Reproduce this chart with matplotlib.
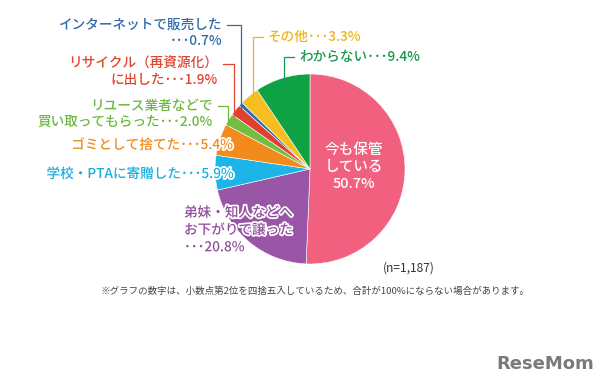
import numpy as np
import matplotlib.pyplot as plt
import matplotlib.patheffects as pe

plt.rcParams['font.family'] = ['Noto Sans CJK JP', 'DejaVu Sans']

# data (clockwise from top)
labels = ['今も保管\nしている', '弟妹・知人などへ\nお下がりで譲った', '学校・PTAに寄贈した',
          'ゴミとして捨てた', 'リユース業者などで\n買い取ってもらった', 'リサイクル（再資源化）\nに出した',
          'インターネットで販売した', 'その他', 'わからない']
values = [50.7, 20.8, 5.9, 5.4, 2.0, 1.9, 0.7, 3.3, 9.4]
colors = ['#F2607F', '#9A56A6', '#1DB4E8', '#F28A1C', '#72BE44', '#E2402E',
          '#2F6DB5', '#F6BE1E', '#0FA245']
text_colors = ['white', '#8E4F9C', '#1AAEE0', '#F08C1E', '#6DB83F', '#E0452F',
               '#2F6AAE', '#EDB41E', '#12994A']

W, H = 608, 388
fig = plt.figure(figsize=(W / 100, H / 100), dpi=100)
ax = fig.add_axes([0, 0, 1, 1])

def Y(py):
    return H - py

cx, cy, r = 310, 169, 95
ax.pie(values, colors=colors, startangle=90, counterclock=False,
       center=(cx, Y(cy)), radius=r, frame=True,
       wedgeprops=dict(edgecolor='white', linewidth=0.4))
ax.set_xlim(0, W)
ax.set_ylim(0, H)
ax.axis('off')

fs = 9.8
fw = 'medium'
stroke = [pe.withStroke(linewidth=2.5, foreground='white')]

def pct(v):
    return '･･･%.1f%%' % v

# center label
ax.text(354, Y(167), labels[0] + '\n' + '%.1f%%' % values[0], color='white',
        fontsize=10.5, fontweight=fw, ha='center', va='center', linespacing=1.25)

# purple
ax.text(184, Y(230), labels[1] + '\n' + pct(values[1]), color=text_colors[1],
        fontsize=fs, fontweight=fw, ha='left', va='center', linespacing=1.3,
        path_effects=stroke)

# single-line left labels
ax.text(234, Y(174), labels[2] + pct(values[2]), color=text_colors[2],
        fontsize=fs, fontweight=fw, ha='right', va='center', path_effects=stroke)
ax.text(233, Y(145), labels[3] + pct(values[3]), color=text_colors[3],
        fontsize=fs, fontweight=fw, ha='right', va='center', path_effects=stroke)

# two-line left labels with brackets
def bracket_left(idx, tx, ty, lx, yline):
    parts = labels[idx].split('\n')
    l1 = parts[0]
    l2 = (parts[1] if len(parts) > 1 else '') + pct(values[idx])
    ax.text(tx, Y(ty), l1, color=text_colors[idx], fontsize=fs, fontweight=fw,
            ha='right', va='center')
    ax.text(tx, Y(ty + 16), l2, color=text_colors[idx], fontsize=fs,
            fontweight=fw, ha='right', va='center')
    yend = cy - np.sqrt(r ** 2 - (lx - cx) ** 2) + yline
    ax.plot([tx + 5, lx, lx], [Y(ty), Y(ty), Y(yend)],
            color=text_colors[idx], lw=0.9)

bracket_left(4, 213, 106, 228, 4)
bracket_left(5, 218, 64, 234, 4)
bracket_left(6, 222, 25, 241, 4)

# right labels with brackets
def bracket_right(idx, tx, ty, lx, yline):
    ax.text(tx, Y(ty), labels[idx] + pct(values[idx]), color=text_colors[idx],
            fontsize=fs, fontweight=fw, ha='left', va='center')
    yend = cy - np.sqrt(r ** 2 - (lx - cx) ** 2) + yline
    ax.plot([tx - 5, lx, lx], [Y(ty), Y(ty), Y(yend)],
            color=text_colors[idx], lw=0.9)

bracket_right(7, 268, 37, 253, 4)
bracket_right(8, 299, 57, 284, 4)

ax.text(383, Y(268), '(n=1,187)', color='#333333', fontsize=8.6,
        ha='left', va='center')

ax.text(315, Y(291), '※グラフの数字は、小数点第2位を四捨五入しているため、合計が100%にならない場合があります。',
        color='#444444', fontsize=6.8, ha='center', va='center')

ax.text(545, Y(364), 'ReseMom', color='#7a7a7a', fontsize=13, fontweight='bold',
        family=['DejaVu Sans'], ha='center', va='center')

fig.savefig('out.png', dpi=100)
